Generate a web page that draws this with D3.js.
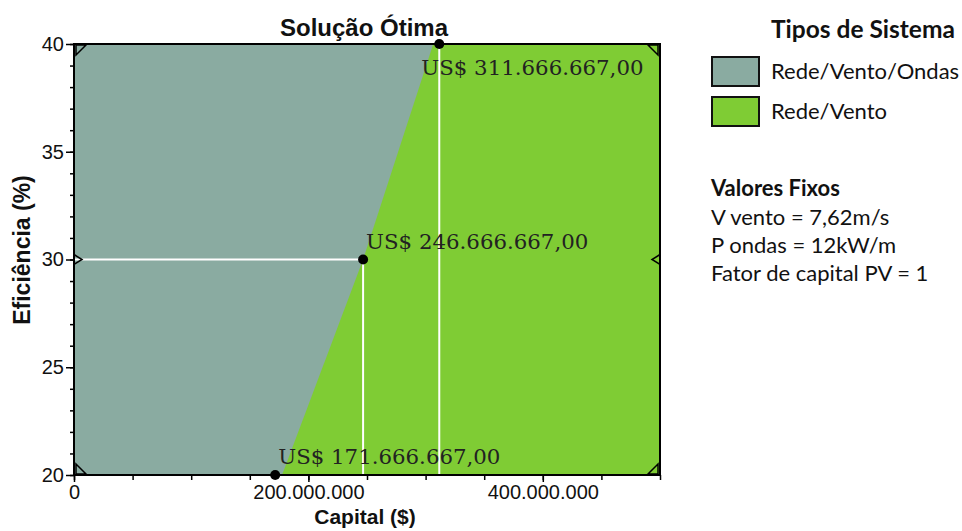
<!DOCTYPE html>
<html><head><meta charset="utf-8">
<script src="https://cdn.jsdelivr.net/npm/d3@7"></script>
<style>body{margin:0;background:#fff}svg{display:block}</style>
</head><body>
<svg id="chart" width="962" height="531"></svg>
<script>
// ---- data ----
const efficiency = [20, 30, 40];                       // %
const capital = [171666667, 246666667, 311666667];     // optimal capital ($)
const boundaryCapital = [177500000, 246666667, 306500000]; // region border ($) at each efficiency
const pointLabels = ["US$ 171.666.667,00", "US$ 246.666.667,00", "US$ 311.666.667,00"];
const xMajorTicks = [0, 200000000, 400000000];
const xTickLabels = ["0", "200.000.000", "400.000.000"];
const yMajorTicks = [20, 25, 30, 35, 40];
const systemTypes = ["Rede/Vento/Ondas", "Rede/Vento"];
const systemColors = ["#8aaba1", "#7fcc34"];
const fixedValues = ["V vento = 7,62m/s", "P ondas = 12kW/m", "Fator de capital PV = 1"];

const svg = d3.select("#chart");
const x = d3.scaleLinear().domain([0, 500000000]).range([74, 660]);
const y = d3.scaleLinear().domain([20, 40]).range([475, 44]);
const sansF = "Liberation Sans, Arial, sans-serif";

// background (Rede/Vento region)
svg.append("rect").attr("x", x(0)).attr("y", y(40))
  .attr("width", x(500000000) - x(0)).attr("height", y(20) - y(40))
  .attr("fill", systemColors[1]);

// Rede/Vento/Ondas region
const poly = [[0, 40], [0, 20]].concat(boundaryCapital.map((c, i) => [c, efficiency[i]]));
svg.append("path")
  .attr("d", d3.line().x(d => x(d[0])).y(d => y(d[1]))(poly) + "Z")
  .attr("fill", systemColors[0]);

// white guide lines
const g = svg.append("g").attr("stroke", "#fff").attr("stroke-width", 2);
capital.forEach((c, i) => {
  g.append("line").attr("x1", x(0)).attr("x2", x(c)).attr("y1", y(efficiency[i])).attr("y2", y(efficiency[i]));
  g.append("line").attr("x1", x(c)).attr("x2", x(c)).attr("y1", y(efficiency[i])).attr("y2", y(20));
});

// axes
const ax = svg.append("g").attr("transform", `translate(0,${y(20)})`);
ax.call(d3.axisBottom(x).tickValues(d3.range(0, 500000001, 50000000)).tickSize(5).tickFormat(""));
ax.select(".domain").remove();
const axMaj = svg.append("g").attr("transform", `translate(0,${y(20)})`)
  .call(d3.axisBottom(x).tickValues(xMajorTicks).tickSize(7).tickPadding(3)
    .tickFormat((d, i) => xTickLabels[i]));
axMaj.select(".domain").remove();
axMaj.selectAll("text").attr("font-family", sansF).attr("font-size", 20).attr("fill", "#111");

const ay = svg.append("g").attr("transform", `translate(${x(0)},0)`);
ay.call(d3.axisLeft(y).tickValues(d3.range(20, 41, 1)).tickSize(4).tickFormat(""));
ay.select(".domain").remove();
const ayMaj = svg.append("g").attr("transform", `translate(${x(0)},0)`)
  .call(d3.axisLeft(y).tickValues(yMajorTicks).tickSize(8).tickPadding(2).tickFormat(d3.format("d")));
ayMaj.select(".domain").remove();
ayMaj.selectAll("text").attr("font-family", sansF).attr("font-size", 20).attr("fill", "#111");
svg.selectAll(".tick line").attr("stroke", "#000").attr("stroke-width", 1.5);

// frame
svg.append("rect").attr("x", x(0)).attr("y", y(40))
  .attr("width", x(500000000) - x(0)).attr("height", y(20) - y(40))
  .attr("fill", "none").attr("stroke", "#000").attr("stroke-width", 2);

// corner / edge markers
const markers = [
  {p: [x(0), y(40)], pts: [[2, 1], [12, 1], [2, 11]]},
  {p: [x(500000000), y(40)], pts: [[-2, 1], [-12, 1], [-2, 11]]},
  {p: [x(0), y(20)], pts: [[2, -1], [12, -1], [2, -11]]},
  {p: [x(500000000), y(20)], pts: [[-2, -1], [-12, -1], [-2, -11]]},
  {p: [x(0), y(30)], pts: [[0, -5], [8, 0], [0, 5]]},
  {p: [x(500000000), y(30)], pts: [[0, -5], [-8, 0], [0, 5]]}
];
markers.forEach(m => {
  svg.append("polygon")
    .attr("points", m.pts.map(q => [m.p[0] + q[0], m.p[1] + q[1]].join(",")).join(" "))
    .attr("fill", "none").attr("stroke", "#000").attr("stroke-width", 1.5);
});

// points
svg.selectAll("circle.pt").data(capital).join("circle").attr("class", "pt")
  .attr("cx", d => x(d)).attr("cy", (d, i) => y(efficiency[i])).attr("r", 5).attr("fill", "#000");

// point labels
const lblOff = [[3, -11], [3, -11], [-18, 31]];
svg.selectAll("text.pl").data(pointLabels).join("text").attr("class", "pl")
  .attr("x", (d, i) => x(capital[i]) + lblOff[i][0])
  .attr("y", (d, i) => y(efficiency[i]) + lblOff[i][1])
  .attr("font-family", "DejaVu Serif, serif").attr("font-size", 21.3).attr("fill", "#222")
  .text(d => d);

// titles
svg.append("text").attr("x", 364).attr("y", 36).attr("text-anchor", "middle")
  .attr("font-family", sansF).attr("font-weight", "bold").attr("font-size", 24)
  .attr("fill", "#111").text("Solução Ótima");
svg.append("text").attr("x", 365).attr("y", 524).attr("text-anchor", "middle")
  .attr("font-family", sansF).attr("font-weight", "bold").attr("font-size", 21)
  .attr("fill", "#111").text("Capital ($)");
svg.append("text").attr("transform", "translate(30,250) rotate(-90)").attr("text-anchor", "middle")
  .attr("font-family", sansF).attr("font-weight", "bold").attr("font-size", 23)
  .attr("fill", "#111").text("Eficiência (%)");

// legend
const lf = "Lato, 'Open Sans', sans-serif";
svg.append("text").attr("x", 771).attr("y", 38).attr("font-family", lf).attr("font-weight", "bold")
  .attr("font-size", 24.5).attr("fill", "#111").text("Tipos de Sistema");
systemTypes.forEach((s, i) => {
  svg.append("rect").attr("x", 712).attr("y", 57 + i * 40).attr("width", 47).attr("height", 29)
    .attr("fill", systemColors[i]).attr("stroke", "#111").attr("stroke-width", 2);
  svg.append("text").attr("x", 771).attr("y", 79 + i * 40).attr("font-family", lf)
    .attr("font-size", 22).attr("fill", "#111").text(s);
});
svg.append("text").attr("x", 711).attr("y", 196).attr("font-family", lf).attr("font-weight", "bold")
  .attr("font-size", 22).attr("fill", "#111").text("Valores Fixos");
fixedValues.forEach((s, i) => {
  svg.append("text").attr("x", 711).attr("y", 225 + i * 28).attr("font-family", lf)
    .attr("font-size", 22).attr("fill", "#111").text(s);
});
</script>
</body></html>
